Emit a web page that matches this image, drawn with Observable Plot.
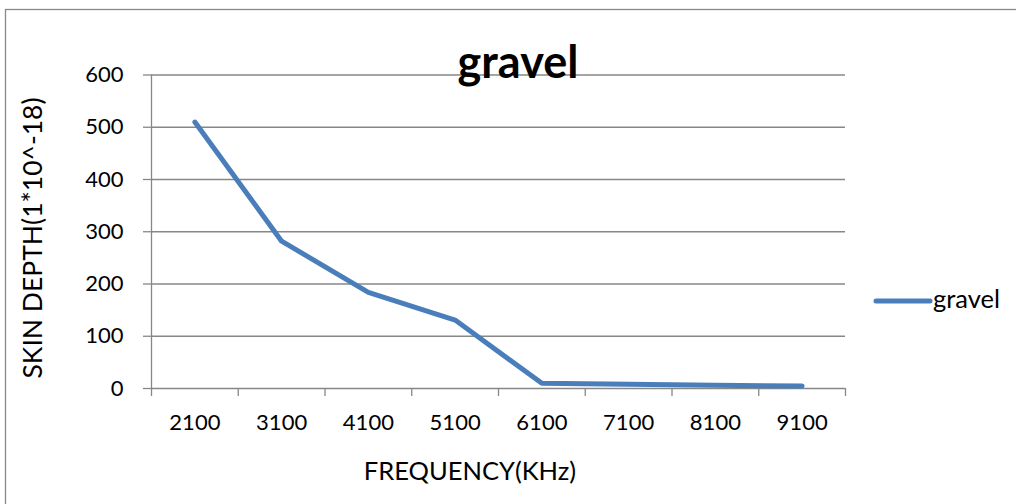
<!DOCTYPE html>
<html><head><meta charset="utf-8">
<script src="https://cdn.jsdelivr.net/npm/d3@7"></script>
<script src="https://cdn.jsdelivr.net/npm/@observablehq/plot@0.6"></script>
<style>
body{margin:0;background:#fff;}
#chart{position:relative;width:1016px;height:504px;overflow:hidden;}
</style></head><body><div id="chart"></div>
<script>
const categories = ["2100","3100","4100","5100","6100","7100","8100","9100"];
const skinDepth = [510, 282, 184, 131, 10, 8, 6, 5];
const yTicks = [0, 100, 200, 300, 400, 500, 600];
const seriesName = "gravel";
const chartTitle = "gravel";
const xTitle = "FREQUENCY(KHz)";
const yTitle = "SKIN DEPTH(1*10^-18)";

const data = categories.map((c, i) => ({cat: c, pos: i + 0.5, value: skinDepth[i]}));
const bounds = d3.range(categories.length + 1);
const centers = data.map(d => d.pos);
const FONT = "Lato, 'Open Sans', sans-serif";
const GRAY = "#878787";
const BLUE = "#4A7EBB";

const plot = Plot.plot({
  width: 1016, height: 504,
  marginLeft: 151, marginRight: 171, marginTop: 74.5, marginBottom: 116,
  style: {fontFamily: FONT, fontSize: "22px", color: "#000", background: "#fff", overflow: "visible"},
  x: {type: "linear", domain: [0, categories.length]},
  y: {domain: [0, 600]},
  marks: [
    Plot.gridY(yTicks, {stroke: GRAY, strokeOpacity: 1, strokeWidth: 1.3}),
    Plot.axisY(yTicks, {tickSize: 8, tickPadding: 20, stroke: GRAY, strokeWidth: 1.3, label: null, fill: "#000", fontSize: 22}),
    Plot.axisX(bounds, {tickSize: 8, tickFormat: () => "", stroke: GRAY, strokeWidth: 1.3, label: null}),
    Plot.axisX(centers, {tickSize: 0, tickPadding: 26, tickFormat: d => categories[Math.round(d - 0.5)], label: null, fill: "#000", fontSize: 22}),
    Plot.ruleX([0], {stroke: GRAY, strokeWidth: 1.3}),
    Plot.lineY(data, {x: "pos", y: "value", stroke: BLUE, strokeWidth: 5, strokeLinecap: "round", strokeLinejoin: "round"})
  ]
});

const svg = d3.select(plot);
svg.insert("rect", ":first-child")
  .attr("x", 5.5).attr("y", 9.5).attr("width", 1100).attr("height", 600)
  .attr("fill", "none").attr("stroke", "#888").attr("stroke-width", 1.3);
svg.append("text").text(chartTitle)
  .attr("x", 518).attr("y", 78).attr("text-anchor", "middle")
  .attr("font-weight", "bold").attr("font-size", 45).attr("fill", "#000");
svg.append("text").text(xTitle)
  .attr("x", 470).attr("y", 480).attr("text-anchor", "middle")
  .attr("font-size", 25.5).attr("fill", "#000");
svg.append("text").text(yTitle)
  .attr("transform", "translate(42,238) rotate(-90)").attr("text-anchor", "middle")
  .attr("font-size", 26.5).attr("fill", "#000");
svg.append("line")
  .attr("x1", 876).attr("y1", 301).attr("x2", 930).attr("y2", 301)
  .attr("stroke", BLUE).attr("stroke-width", 5).attr("stroke-linecap", "round");
svg.append("text").text(seriesName)
  .attr("x", 933).attr("y", 308).attr("text-anchor", "start")
  .attr("font-size", 25.5).attr("fill", "#000");

document.getElementById("chart").appendChild(plot);
</script></body></html>
